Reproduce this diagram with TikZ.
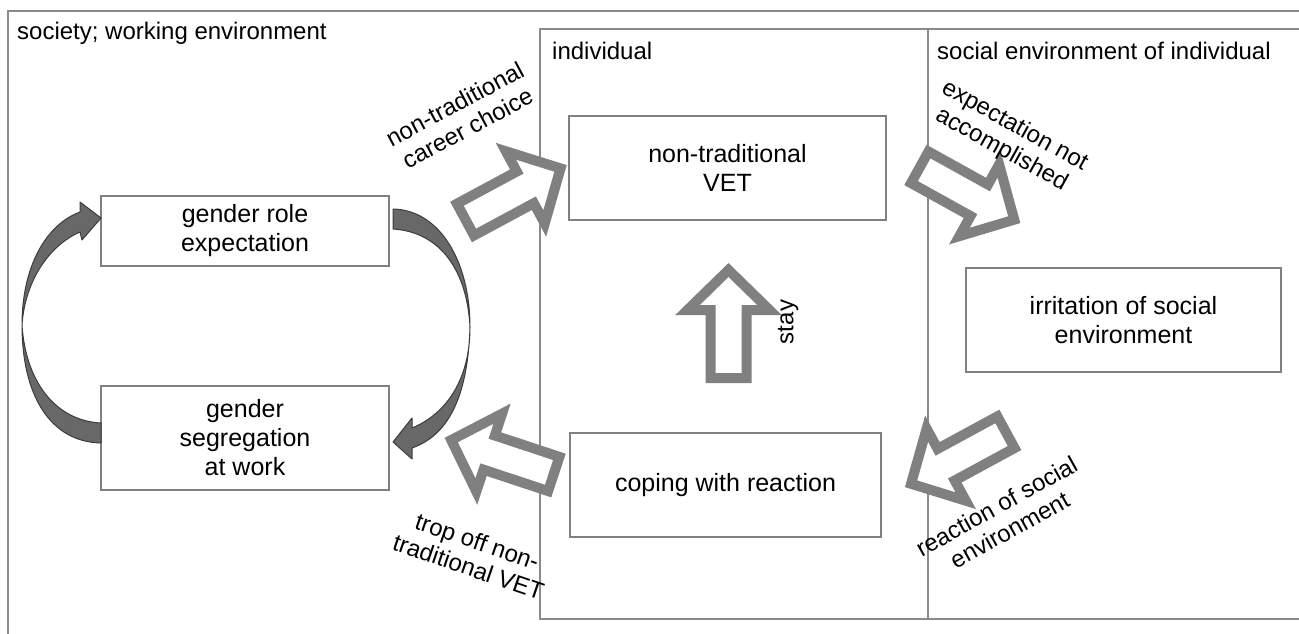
\documentclass[tikz,border=0pt]{standalone}
\usepackage{fontspec}
\setmainfont{Liberation Sans}
\definecolor{framegray}{HTML}{8A8A8A}
\definecolor{boxgray}{HTML}{808080}
\definecolor{arrgray}{HTML}{808080}
\definecolor{curvefill}{HTML}{686868}
\definecolor{curvedraw}{HTML}{3C3C3C}
\newcommand\boxfont{\fontsize{25}{29}\selectfont}
\newcommand\labfont{\fontsize{24}{27}\selectfont}
\newcommand\blockarr[3]{%
  \begin{scope}[shift={#2}, rotate=#3]
    \draw[blockarrow] (-54,-18) -- (14,-18) -- (14,-41) -- (54,0) -- (14,41) -- (14,18) -- (-54,18) -- cycle;
    \coordinate (#1) at (0,0);
  \end{scope}}
\begin{document}
\begin{tikzpicture}[x=1pt, y=-1pt,
  box/.style={draw=boxgray, line width=1.5pt, fill=white, align=center, font=\boxfont, inner sep=0pt},
  frame/.style={draw=framegray, line width=2pt},
  blockarrow/.style={draw=arrgray, line width=10pt, fill=white, line join=miter},
  curvearrow/.style={fill=curvefill, draw=curvedraw, line width=1pt, line join=round},
  lab/.style={font=\labfont, align=center, inner sep=0pt, text=black}]
\useasboundingbox (0,0) rectangle (1299,634);
\clip (0,0) rectangle (1299,634);
% frames
\draw[frame] (8,660) -- (8,11) -- (1320,11);
\draw[frame] (1320,29) -- (540,29) -- (540,619) -- (1320,619);
\draw[frame] (928,29) -- (928,619);
\node[lab, anchor=west] (lsoc) at (17,33) {society; working environment};
\node[lab, anchor=west] (lind) at (552,51) {individual};
\node[lab, anchor=west] (lsenv) at (937,51) {social environment of individual};
% boxes
\node[box, minimum width=288pt, minimum height=70pt] (gre) at (245,231) {gender role\\expectation};
\node[box, minimum width=288pt, minimum height=104pt] (gsw) at (245,438) {gender\\segregation\\at work};
\node[box, minimum width=317pt, minimum height=104pt] (vet) at (727.5,168) {non-traditional\\VET};
\node[box, minimum width=315pt, minimum height=104pt] (irr) at (1123.5,320) {irritation of social\\environment};
\node[box, minimum width=311pt, minimum height=104pt] (cop) at (725.5,485) {coping with reaction};
% curved arrows
\draw[curvearrow] (101,443) .. controls (50,442) and (22,395) .. (22,325)
  .. controls (22,268) and (45,225) .. (80,212) -- (80,202) -- (101,218) -- (82,240) -- (80,232)
  .. controls (50,245) and (25,280) .. (22,325)
  .. controls (26,385) and (58,421) .. (101,423) -- cycle;
\draw[curvearrow] (393,209) .. controls (440,210) and (470,262) .. (470,327)
  .. controls (470,380) and (446,414) .. (412,428) -- (412,418) -- (393,442) -- (412,459) -- (412,448)
  .. controls (452,434) and (468,390) .. (470,327)
  .. controls (467,270) and (440,232) .. (393,229) -- cycle;
% block arrows
\blockarr{a1}{(513,194)}{28.3}
\blockarr{a2}{(967,193.5)}{-29}
\blockarr{a3}{(958.5,458)}{208.5}
\blockarr{a4}{(502.5,457)}{161.7}
\blockarr{a5}{(728.5,324)}{90}
% arrow labels
\node[lab, rotate=28] (t1) at (461,116) {non-traditional\\career choice};
\node[lab, rotate=-29] (t2) at (1008,138) {expectation not\\accomplished};
\node[lab, rotate=29] (t3) at (1003,518) {reaction of social\\environment};
\node[lab, rotate=-19] (t4) at (473,554) {trop off non-\\traditional VET};
\node[lab, rotate=90] (t5) at (788,322) {stay};
\end{tikzpicture}
\end{document}
